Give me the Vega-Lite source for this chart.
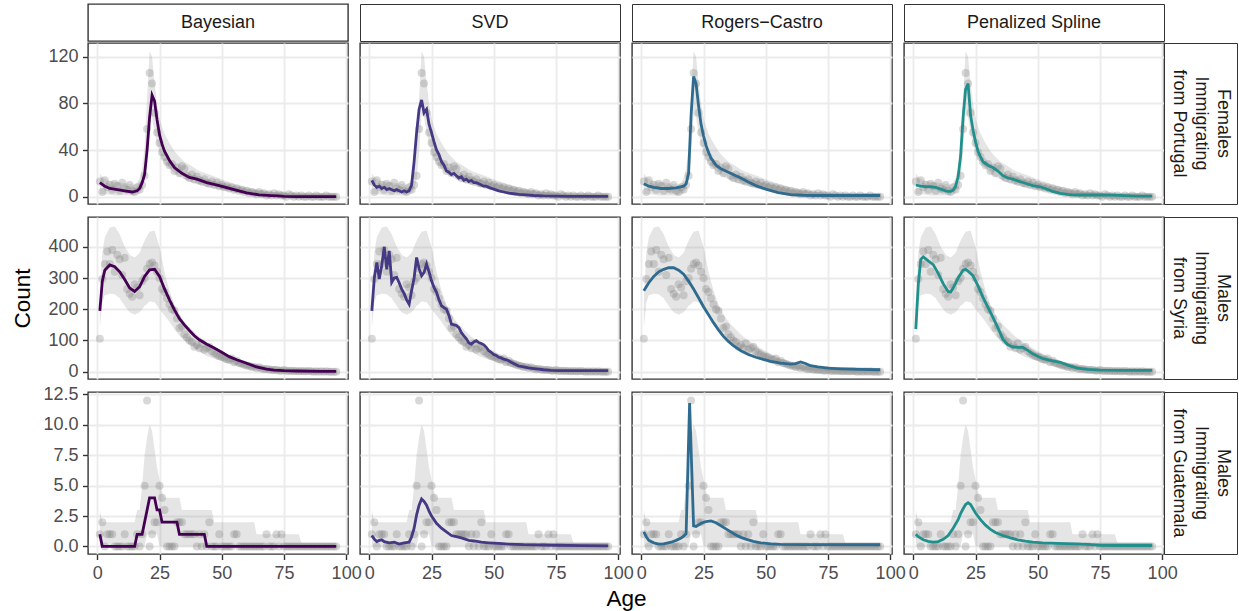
{
"$schema":"https://vega.github.io/schema/vega-lite/v6.json",
"padding":{"left":10,"top":3,"right":1,"bottom":4},
"background":"white",
"config":{
 "font":"Liberation Sans",
 "view":{"stroke":"#333333","strokeWidth":1.4},
 "axis":{"domain":false,"gridColor":"#ebebeb","gridWidth":1.8,"tickColor":"#333333","tickWidth":1.4,"tickSize":5.5,"labelColor":"#4d4d4d","labelFontSize":18,"labelPadding":4.5,"titleFontSize":22.5,"titleFontWeight":"normal","titleColor":"#000000","labelFont":"Liberation Sans","titleFont":"Liberation Sans"},
 "axisY":{"minExtent":45,"maxExtent":45,"titlePadding":9},
 "axisX":{"labelFlush":false,"titlePadding":5.6},
 "area":{"color":"#7f7f7f","opacity":0.2},
 "circle":{"color":"#7f7f7f","opacity":0.3,"size":64},
 "point":{"opacity":0,"size":1},
 "line":{"strokeWidth":2.8},
 "text":{"fontSize":18,"color":"#1a1a1a","font":"Liberation Sans"}
},
"datasets":{
"pts":[
{"c":"PT","age":1,"n":13},{"c":"PT","age":2,"n":4},{"c":"PT","age":3,"n":14},{"c":"PT","age":4,"n":8},{"c":"PT","age":5,"n":10},{"c":"PT","age":6,"n":6},{"c":"PT","age":7,"n":11},{"c":"PT","age":8,"n":9},{"c":"PT","age":9,"n":5},{"c":"PT","age":10,"n":12},{"c":"PT","age":11,"n":7},{"c":"PT","age":12,"n":6},{"c":"PT","age":13,"n":10},{"c":"PT","age":14,"n":5},{"c":"PT","age":15,"n":4},{"c":"PT","age":16,"n":8},{"c":"PT","age":17,"n":6},{"c":"PT","age":18,"n":10},{"c":"PT","age":19,"n":18},{"c":"PT","age":20,"n":58},{"c":"PT","age":21,"n":106},{"c":"PT","age":22,"n":97},{"c":"PT","age":23,"n":72},{"c":"PT","age":24,"n":55},{"c":"PT","age":25,"n":46},{"c":"PT","age":26,"n":38},{"c":"PT","age":27,"n":34},{"c":"PT","age":28,"n":30},{"c":"PT","age":29,"n":27},{"c":"PT","age":30,"n":28},{"c":"PT","age":31,"n":22},{"c":"PT","age":32,"n":25},{"c":"PT","age":33,"n":20},{"c":"PT","age":34,"n":26},{"c":"PT","age":35,"n":24},{"c":"PT","age":36,"n":18},{"c":"PT","age":37,"n":16},{"c":"PT","age":38,"n":19},{"c":"PT","age":39,"n":15},{"c":"PT","age":40,"n":17},{"c":"PT","age":41,"n":14},{"c":"PT","age":42,"n":13},{"c":"PT","age":43,"n":15},{"c":"PT","age":44,"n":12},{"c":"PT","age":45,"n":11},{"c":"PT","age":46,"n":13},{"c":"PT","age":47,"n":10},{"c":"PT","age":48,"n":12},{"c":"PT","age":49,"n":9},{"c":"PT","age":50,"n":10},{"c":"PT","age":51,"n":8},{"c":"PT","age":52,"n":9},{"c":"PT","age":53,"n":7},{"c":"PT","age":54,"n":8},{"c":"PT","age":55,"n":6},{"c":"PT","age":56,"n":7},{"c":"PT","age":57,"n":5},{"c":"PT","age":58,"n":6},{"c":"PT","age":59,"n":4},{"c":"PT","age":60,"n":5},{"c":"PT","age":61,"n":3},{"c":"PT","age":62,"n":4},{"c":"PT","age":63,"n":3},{"c":"PT","age":64,"n":2},{"c":"PT","age":65,"n":4},{"c":"PT","age":66,"n":2},{"c":"PT","age":67,"n":3},{"c":"PT","age":68,"n":1},{"c":"PT","age":69,"n":2},{"c":"PT","age":70,"n":1},{"c":"PT","age":71,"n":3},{"c":"PT","age":72,"n":1},{"c":"PT","age":73,"n":2},{"c":"PT","age":74,"n":1},{"c":"PT","age":75,"n":1},{"c":"PT","age":76,"n":0},{"c":"PT","age":77,"n":2},{"c":"PT","age":78,"n":1},{"c":"PT","age":79,"n":0},{"c":"PT","age":80,"n":1},{"c":"PT","age":81,"n":0},{"c":"PT","age":82,"n":1},{"c":"PT","age":83,"n":0},{"c":"PT","age":84,"n":0},{"c":"PT","age":85,"n":1},{"c":"PT","age":86,"n":0},{"c":"PT","age":87,"n":0},{"c":"PT","age":88,"n":1},{"c":"PT","age":89,"n":0},{"c":"PT","age":90,"n":0},{"c":"PT","age":91,"n":0},{"c":"PT","age":92,"n":1},{"c":"PT","age":93,"n":0},{"c":"PT","age":94,"n":0},{"c":"PT","age":95,"n":0},{"c":"PT","age":96,"n":0},
{"c":"SY","age":1,"n":105},{"c":"SY","age":2,"n":297},{"c":"SY","age":3,"n":345},{"c":"SY","age":4,"n":385},{"c":"SY","age":5,"n":345},{"c":"SY","age":6,"n":390},{"c":"SY","age":7,"n":320},{"c":"SY","age":8,"n":375},{"c":"SY","age":9,"n":360},{"c":"SY","age":10,"n":310},{"c":"SY","age":11,"n":365},{"c":"SY","age":12,"n":265},{"c":"SY","age":13,"n":250},{"c":"SY","age":14,"n":240},{"c":"SY","age":15,"n":280},{"c":"SY","age":16,"n":270},{"c":"SY","age":17,"n":245},{"c":"SY","age":18,"n":290},{"c":"SY","age":19,"n":300},{"c":"SY","age":20,"n":330},{"c":"SY","age":21,"n":345},{"c":"SY","age":22,"n":350},{"c":"SY","age":23,"n":340},{"c":"SY","age":24,"n":320},{"c":"SY","age":25,"n":300},{"c":"SY","age":26,"n":265},{"c":"SY","age":27,"n":255},{"c":"SY","age":28,"n":235},{"c":"SY","age":29,"n":215},{"c":"SY","age":30,"n":200},{"c":"SY","age":31,"n":195},{"c":"SY","age":32,"n":170},{"c":"SY","age":33,"n":140},{"c":"SY","age":34,"n":145},{"c":"SY","age":35,"n":120},{"c":"SY","age":36,"n":110},{"c":"SY","age":37,"n":100},{"c":"SY","age":38,"n":95},{"c":"SY","age":39,"n":80},{"c":"SY","age":40,"n":85},{"c":"SY","age":41,"n":75},{"c":"SY","age":42,"n":90},{"c":"SY","age":43,"n":70},{"c":"SY","age":44,"n":75},{"c":"SY","age":45,"n":80},{"c":"SY","age":46,"n":65},{"c":"SY","age":47,"n":60},{"c":"SY","age":48,"n":55},{"c":"SY","age":49,"n":50},{"c":"SY","age":50,"n":48},{"c":"SY","age":51,"n":45},{"c":"SY","age":52,"n":40},{"c":"SY","age":53,"n":38},{"c":"SY","age":54,"n":42},{"c":"SY","age":55,"n":30},{"c":"SY","age":56,"n":35},{"c":"SY","age":57,"n":28},{"c":"SY","age":58,"n":25},{"c":"SY","age":59,"n":22},{"c":"SY","age":60,"n":20},{"c":"SY","age":61,"n":18},{"c":"SY","age":62,"n":15},{"c":"SY","age":63,"n":16},{"c":"SY","age":64,"n":12},{"c":"SY","age":65,"n":14},{"c":"SY","age":66,"n":10},{"c":"SY","age":67,"n":8},{"c":"SY","age":68,"n":9},{"c":"SY","age":69,"n":7},{"c":"SY","age":70,"n":6},{"c":"SY","age":71,"n":5},{"c":"SY","age":72,"n":6},{"c":"SY","age":73,"n":4},{"c":"SY","age":74,"n":3},{"c":"SY","age":75,"n":5},{"c":"SY","age":76,"n":3},{"c":"SY","age":77,"n":2},{"c":"SY","age":78,"n":3},{"c":"SY","age":79,"n":2},{"c":"SY","age":80,"n":2},{"c":"SY","age":81,"n":1},{"c":"SY","age":82,"n":2},{"c":"SY","age":83,"n":1},{"c":"SY","age":84,"n":1},{"c":"SY","age":85,"n":2},{"c":"SY","age":86,"n":1},{"c":"SY","age":87,"n":0},{"c":"SY","age":88,"n":1},{"c":"SY","age":89,"n":0},{"c":"SY","age":90,"n":1},{"c":"SY","age":91,"n":0},{"c":"SY","age":92,"n":1},{"c":"SY","age":93,"n":0},{"c":"SY","age":94,"n":0},{"c":"SY","age":95,"n":0},{"c":"SY","age":96,"n":0},
{"c":"GT","age":1,"n":1},{"c":"GT","age":2,"n":2},{"c":"GT","age":3,"n":0},{"c":"GT","age":4,"n":1},{"c":"GT","age":5,"n":1},{"c":"GT","age":6,"n":1},{"c":"GT","age":7,"n":0},{"c":"GT","age":8,"n":0},{"c":"GT","age":9,"n":0},{"c":"GT","age":10,"n":0},{"c":"GT","age":11,"n":1},{"c":"GT","age":12,"n":0},{"c":"GT","age":13,"n":0},{"c":"GT","age":14,"n":0},{"c":"GT","age":15,"n":0},{"c":"GT","age":16,"n":1},{"c":"GT","age":17,"n":0},{"c":"GT","age":18,"n":1},{"c":"GT","age":19,"n":5},{"c":"GT","age":20,"n":12},{"c":"GT","age":21,"n":0},{"c":"GT","age":22,"n":1},{"c":"GT","age":23,"n":2},{"c":"GT","age":24,"n":2},{"c":"GT","age":25,"n":5},{"c":"GT","age":26,"n":4},{"c":"GT","age":27,"n":3},{"c":"GT","age":28,"n":0},{"c":"GT","age":29,"n":0},{"c":"GT","age":30,"n":0},{"c":"GT","age":31,"n":0},{"c":"GT","age":32,"n":2},{"c":"GT","age":33,"n":2},{"c":"GT","age":34,"n":2},{"c":"GT","age":35,"n":1},{"c":"GT","age":36,"n":1},{"c":"GT","age":37,"n":1},{"c":"GT","age":38,"n":1},{"c":"GT","age":39,"n":1},{"c":"GT","age":40,"n":0},{"c":"GT","age":41,"n":1},{"c":"GT","age":42,"n":0},{"c":"GT","age":43,"n":1},{"c":"GT","age":44,"n":0},{"c":"GT","age":45,"n":2},{"c":"GT","age":46,"n":0},{"c":"GT","age":47,"n":0},{"c":"GT","age":48,"n":0},{"c":"GT","age":49,"n":1},{"c":"GT","age":50,"n":0},{"c":"GT","age":51,"n":0},{"c":"GT","age":52,"n":0},{"c":"GT","age":53,"n":0},{"c":"GT","age":54,"n":0},{"c":"GT","age":55,"n":1},{"c":"GT","age":56,"n":1},{"c":"GT","age":57,"n":0},{"c":"GT","age":58,"n":0},{"c":"GT","age":59,"n":0},{"c":"GT","age":60,"n":0},{"c":"GT","age":61,"n":0},{"c":"GT","age":62,"n":0},{"c":"GT","age":63,"n":0},{"c":"GT","age":64,"n":0},{"c":"GT","age":65,"n":0},{"c":"GT","age":66,"n":0},{"c":"GT","age":67,"n":0},{"c":"GT","age":68,"n":1},{"c":"GT","age":69,"n":0},{"c":"GT","age":70,"n":0},{"c":"GT","age":71,"n":0},{"c":"GT","age":72,"n":1},{"c":"GT","age":73,"n":0},{"c":"GT","age":74,"n":1},{"c":"GT","age":75,"n":0},{"c":"GT","age":76,"n":0},{"c":"GT","age":77,"n":0},{"c":"GT","age":78,"n":0},{"c":"GT","age":79,"n":0},{"c":"GT","age":80,"n":0},{"c":"GT","age":81,"n":0},{"c":"GT","age":82,"n":0},{"c":"GT","age":83,"n":0},{"c":"GT","age":84,"n":0},{"c":"GT","age":85,"n":0},{"c":"GT","age":86,"n":0},{"c":"GT","age":87,"n":0},{"c":"GT","age":88,"n":0},{"c":"GT","age":89,"n":0},{"c":"GT","age":90,"n":0},{"c":"GT","age":91,"n":0},{"c":"GT","age":92,"n":0},{"c":"GT","age":93,"n":0},{"c":"GT","age":94,"n":0},{"c":"GT","age":95,"n":0},{"c":"GT","age":96,"n":0}
],
"rib":[
{"c":"PT","age":1,"lo":2,"hi":20},{"c":"PT","age":2,"lo":2,"hi":17},{"c":"PT","age":4,"lo":2,"hi":14},{"c":"PT","age":7,"lo":1,"hi":13},{"c":"PT","age":10,"lo":1,"hi":12},{"c":"PT","age":13,"lo":1,"hi":11},{"c":"PT","age":15,"lo":1,"hi":10},{"c":"PT","age":16,"lo":2,"hi":12},{"c":"PT","age":17,"lo":3,"hi":16},{"c":"PT","age":18,"lo":6,"hi":24},{"c":"PT","age":19,"lo":14,"hi":42},{"c":"PT","age":20,"lo":38,"hi":85},{"c":"PT","age":21,"lo":70,"hi":125},{"c":"PT","age":22,"lo":68,"hi":120},{"c":"PT","age":23,"lo":55,"hi":98},{"c":"PT","age":24,"lo":45,"hi":80},{"c":"PT","age":25,"lo":38,"hi":68},{"c":"PT","age":26,"lo":33,"hi":60},{"c":"PT","age":27,"lo":29,"hi":54},{"c":"PT","age":29,"lo":24,"hi":46},{"c":"PT","age":31,"lo":20,"hi":39},{"c":"PT","age":33,"lo":17,"hi":34},{"c":"PT","age":35,"lo":15,"hi":30},{"c":"PT","age":38,"lo":12,"hi":26},{"c":"PT","age":41,"lo":10,"hi":22},{"c":"PT","age":45,"lo":8,"hi":19},{"c":"PT","age":50,"lo":6,"hi":15},{"c":"PT","age":55,"lo":3.5,"hi":11},{"c":"PT","age":60,"lo":2,"hi":8},{"c":"PT","age":65,"lo":1,"hi":6},{"c":"PT","age":70,"lo":0,"hi":4},{"c":"PT","age":75,"lo":0,"hi":3},{"c":"PT","age":80,"lo":0,"hi":2.5},{"c":"PT","age":85,"lo":0,"hi":2},{"c":"PT","age":96,"lo":0,"hi":2},
{"c":"SY","age":1,"lo":140,"hi":230},{"c":"SY","age":2,"lo":220,"hi":380},{"c":"SY","age":3,"lo":245,"hi":430},{"c":"SY","age":5,"lo":250,"hi":462},{"c":"SY","age":7,"lo":248,"hi":465},{"c":"SY","age":9,"lo":235,"hi":440},{"c":"SY","age":11,"lo":210,"hi":400},{"c":"SY","age":13,"lo":190,"hi":375},{"c":"SY","age":15,"lo":182,"hi":366},{"c":"SY","age":17,"lo":190,"hi":380},{"c":"SY","age":19,"lo":210,"hi":420},{"c":"SY","age":21,"lo":225,"hi":448},{"c":"SY","age":23,"lo":222,"hi":452},{"c":"SY","age":25,"lo":200,"hi":400},{"c":"SY","age":27,"lo":180,"hi":320},{"c":"SY","age":29,"lo":160,"hi":260},{"c":"SY","age":31,"lo":135,"hi":215},{"c":"SY","age":33,"lo":115,"hi":185},{"c":"SY","age":35,"lo":100,"hi":160},{"c":"SY","age":38,"lo":82,"hi":135},{"c":"SY","age":41,"lo":65,"hi":112},{"c":"SY","age":44,"lo":50,"hi":95},{"c":"SY","age":48,"lo":38,"hi":75},{"c":"SY","age":52,"lo":28,"hi":57},{"c":"SY","age":56,"lo":18,"hi":42},{"c":"SY","age":60,"lo":12,"hi":30},{"c":"SY","age":65,"lo":7,"hi":20},{"c":"SY","age":70,"lo":4,"hi":13},{"c":"SY","age":75,"lo":2,"hi":9},{"c":"SY","age":80,"lo":1,"hi":7},{"c":"SY","age":85,"lo":0,"hi":6},{"c":"SY","age":90,"lo":0,"hi":5},{"c":"SY","age":96,"lo":0,"hi":5},
{"c":"GT","age":1,"lo":0,"hi":3},{"c":"GT","age":2,"lo":0,"hi":2},{"c":"GT","age":15,"lo":0,"hi":2},{"c":"GT","age":16,"lo":0,"hi":3},{"c":"GT","age":17,"lo":0,"hi":3},{"c":"GT","age":18,"lo":0,"hi":5},{"c":"GT","age":19,"lo":0,"hi":7.5},{"c":"GT","age":20,"lo":1,"hi":9},{"c":"GT","age":21,"lo":1,"hi":10},{"c":"GT","age":22,"lo":1,"hi":9.5},{"c":"GT","age":23,"lo":1,"hi":8},{"c":"GT","age":24,"lo":1,"hi":6.5},{"c":"GT","age":25,"lo":0,"hi":5.5},{"c":"GT","age":26,"lo":0,"hi":4.5},{"c":"GT","age":27,"lo":0,"hi":4},{"c":"GT","age":33,"lo":0,"hi":4},{"c":"GT","age":34,"lo":0,"hi":3},{"c":"GT","age":46,"lo":0,"hi":3},{"c":"GT","age":47,"lo":0,"hi":2},{"c":"GT","age":63,"lo":0,"hi":2},{"c":"GT","age":64,"lo":0,"hi":1},{"c":"GT","age":81,"lo":0,"hi":1},{"c":"GT","age":82,"lo":0,"hi":0.3},{"c":"GT","age":96,"lo":0,"hi":0.3}
],
"fit":[
{"c":"PT","m":"B","age":1,"v":12},{"c":"PT","m":"B","age":3,"v":9},{"c":"PT","m":"B","age":5,"v":7},{"c":"PT","m":"B","age":8,"v":6},{"c":"PT","m":"B","age":11,"v":5},{"c":"PT","m":"B","age":14,"v":4},{"c":"PT","m":"B","age":16,"v":5},{"c":"PT","m":"B","age":17,"v":7},{"c":"PT","m":"B","age":18,"v":12},{"c":"PT","m":"B","age":19,"v":19},{"c":"PT","m":"B","age":20,"v":40},{"c":"PT","m":"B","age":21,"v":68},{"c":"PT","m":"B","age":22,"v":87},{"c":"PT","m":"B","age":23,"v":82},{"c":"PT","m":"B","age":24,"v":66},{"c":"PT","m":"B","age":25,"v":53},{"c":"PT","m":"B","age":26,"v":45},{"c":"PT","m":"B","age":27,"v":39},{"c":"PT","m":"B","age":29,"v":31},{"c":"PT","m":"B","age":31,"v":25},{"c":"PT","m":"B","age":34,"v":20},{"c":"PT","m":"B","age":37,"v":16.5},{"c":"PT","m":"B","age":40,"v":15},{"c":"PT","m":"B","age":44,"v":12},{"c":"PT","m":"B","age":49,"v":9.5},{"c":"PT","m":"B","age":55,"v":6},{"c":"PT","m":"B","age":60,"v":3.3},{"c":"PT","m":"B","age":65,"v":1.6},{"c":"PT","m":"B","age":70,"v":0.9},{"c":"PT","m":"B","age":73,"v":0.6},{"c":"PT","m":"B","age":75,"v":0.2},{"c":"PT","m":"B","age":80,"v":0.1},{"c":"PT","m":"B","age":96,"v":0},
{"c":"PT","m":"S","age":1,"v":14},{"c":"PT","m":"S","age":2,"v":10},{"c":"PT","m":"S","age":3,"v":8},{"c":"PT","m":"S","age":4,"v":9},{"c":"PT","m":"S","age":5,"v":7},{"c":"PT","m":"S","age":6,"v":8},{"c":"PT","m":"S","age":7,"v":6},{"c":"PT","m":"S","age":8,"v":7},{"c":"PT","m":"S","age":9,"v":6},{"c":"PT","m":"S","age":10,"v":5},{"c":"PT","m":"S","age":11,"v":6},{"c":"PT","m":"S","age":12,"v":5},{"c":"PT","m":"S","age":13,"v":4},{"c":"PT","m":"S","age":14,"v":5},{"c":"PT","m":"S","age":15,"v":4},{"c":"PT","m":"S","age":16,"v":5},{"c":"PT","m":"S","age":17,"v":10},{"c":"PT","m":"S","age":18,"v":30},{"c":"PT","m":"S","age":19,"v":55},{"c":"PT","m":"S","age":20,"v":75},{"c":"PT","m":"S","age":21,"v":83},{"c":"PT","m":"S","age":22,"v":72},{"c":"PT","m":"S","age":23,"v":75},{"c":"PT","m":"S","age":24,"v":62},{"c":"PT","m":"S","age":25,"v":55},{"c":"PT","m":"S","age":26,"v":47},{"c":"PT","m":"S","age":27,"v":40},{"c":"PT","m":"S","age":28,"v":36},{"c":"PT","m":"S","age":29,"v":30},{"c":"PT","m":"S","age":30,"v":27},{"c":"PT","m":"S","age":31,"v":22},{"c":"PT","m":"S","age":32,"v":21},{"c":"PT","m":"S","age":33,"v":19},{"c":"PT","m":"S","age":34,"v":20},{"c":"PT","m":"S","age":35,"v":18},{"c":"PT","m":"S","age":36,"v":16},{"c":"PT","m":"S","age":37,"v":17},{"c":"PT","m":"S","age":38,"v":14},{"c":"PT","m":"S","age":39,"v":15},{"c":"PT","m":"S","age":40,"v":13},{"c":"PT","m":"S","age":41,"v":14},{"c":"PT","m":"S","age":42,"v":12},{"c":"PT","m":"S","age":43,"v":12},{"c":"PT","m":"S","age":44,"v":11},{"c":"PT","m":"S","age":45,"v":10},{"c":"PT","m":"S","age":46,"v":9},{"c":"PT","m":"S","age":47,"v":9},{"c":"PT","m":"S","age":48,"v":8},{"c":"PT","m":"S","age":50,"v":6.5},{"c":"PT","m":"S","age":52,"v":5},{"c":"PT","m":"S","age":54,"v":4},{"c":"PT","m":"S","age":56,"v":3},{"c":"PT","m":"S","age":58,"v":2.5},{"c":"PT","m":"S","age":60,"v":2},{"c":"PT","m":"S","age":63,"v":1.5},{"c":"PT","m":"S","age":66,"v":1},{"c":"PT","m":"S","age":70,"v":0.6},{"c":"PT","m":"S","age":75,"v":0.4},{"c":"PT","m":"S","age":80,"v":0.3},{"c":"PT","m":"S","age":96,"v":0.2},
{"c":"PT","m":"R","age":1,"v":11},{"c":"PT","m":"R","age":3,"v":9},{"c":"PT","m":"R","age":5,"v":8},{"c":"PT","m":"R","age":8,"v":7},{"c":"PT","m":"R","age":11,"v":7},{"c":"PT","m":"R","age":14,"v":7.5},{"c":"PT","m":"R","age":17,"v":9},{"c":"PT","m":"R","age":18,"v":11},{"c":"PT","m":"R","age":19,"v":20},{"c":"PT","m":"R","age":20,"v":70},{"c":"PT","m":"R","age":21,"v":103},{"c":"PT","m":"R","age":22,"v":97},{"c":"PT","m":"R","age":23,"v":78},{"c":"PT","m":"R","age":24,"v":62},{"c":"PT","m":"R","age":25,"v":52},{"c":"PT","m":"R","age":26,"v":44},{"c":"PT","m":"R","age":27,"v":38},{"c":"PT","m":"R","age":28,"v":33},{"c":"PT","m":"R","age":30,"v":27},{"c":"PT","m":"R","age":32,"v":24},{"c":"PT","m":"R","age":35,"v":21},{"c":"PT","m":"R","age":38,"v":18},{"c":"PT","m":"R","age":40,"v":16},{"c":"PT","m":"R","age":43,"v":12.5},{"c":"PT","m":"R","age":46,"v":9.5},{"c":"PT","m":"R","age":50,"v":6.5},{"c":"PT","m":"R","age":55,"v":3.5},{"c":"PT","m":"R","age":60,"v":1.8},{"c":"PT","m":"R","age":65,"v":1.2},{"c":"PT","m":"R","age":70,"v":1},{"c":"PT","m":"R","age":96,"v":1},
{"c":"PT","m":"P","age":1,"v":10},{"c":"PT","m":"P","age":3,"v":9},{"c":"PT","m":"P","age":5,"v":8.6},{"c":"PT","m":"P","age":7,"v":8.5},{"c":"PT","m":"P","age":9,"v":8},{"c":"PT","m":"P","age":11,"v":6.5},{"c":"PT","m":"P","age":13,"v":5},{"c":"PT","m":"P","age":14,"v":4.6},{"c":"PT","m":"P","age":15,"v":4.5},{"c":"PT","m":"P","age":16,"v":5.5},{"c":"PT","m":"P","age":17,"v":9},{"c":"PT","m":"P","age":18,"v":17},{"c":"PT","m":"P","age":19,"v":35},{"c":"PT","m":"P","age":20,"v":68},{"c":"PT","m":"P","age":21,"v":92},{"c":"PT","m":"P","age":22,"v":97},{"c":"PT","m":"P","age":23,"v":70},{"c":"PT","m":"P","age":24,"v":57},{"c":"PT","m":"P","age":25,"v":47},{"c":"PT","m":"P","age":26,"v":39},{"c":"PT","m":"P","age":27,"v":34},{"c":"PT","m":"P","age":28,"v":30},{"c":"PT","m":"P","age":30,"v":27},{"c":"PT","m":"P","age":32,"v":25},{"c":"PT","m":"P","age":34,"v":22},{"c":"PT","m":"P","age":36,"v":18},{"c":"PT","m":"P","age":38,"v":16},{"c":"PT","m":"P","age":40,"v":15},{"c":"PT","m":"P","age":42,"v":13.5},{"c":"PT","m":"P","age":45,"v":11.5},{"c":"PT","m":"P","age":48,"v":9.5},{"c":"PT","m":"P","age":51,"v":8.5},{"c":"PT","m":"P","age":53,"v":7},{"c":"PT","m":"P","age":56,"v":4.5},{"c":"PT","m":"P","age":59,"v":2.9},{"c":"PT","m":"P","age":62,"v":2},{"c":"PT","m":"P","age":65,"v":1.4},{"c":"PT","m":"P","age":70,"v":1.4},{"c":"PT","m":"P","age":75,"v":1.6},{"c":"PT","m":"P","age":80,"v":1.3},{"c":"PT","m":"P","age":85,"v":0.8},{"c":"PT","m":"P","age":90,"v":0.5},{"c":"PT","m":"P","age":96,"v":0.5},
{"c":"SY","m":"B","age":1,"v":195},{"c":"SY","m":"B","age":2,"v":290},{"c":"SY","m":"B","age":3,"v":325},{"c":"SY","m":"B","age":5,"v":342},{"c":"SY","m":"B","age":7,"v":336},{"c":"SY","m":"B","age":9,"v":320},{"c":"SY","m":"B","age":11,"v":295},{"c":"SY","m":"B","age":13,"v":268},{"c":"SY","m":"B","age":15,"v":257},{"c":"SY","m":"B","age":17,"v":272},{"c":"SY","m":"B","age":19,"v":305},{"c":"SY","m":"B","age":21,"v":326},{"c":"SY","m":"B","age":23,"v":328},{"c":"SY","m":"B","age":25,"v":305},{"c":"SY","m":"B","age":27,"v":265},{"c":"SY","m":"B","age":29,"v":230},{"c":"SY","m":"B","age":31,"v":198},{"c":"SY","m":"B","age":33,"v":170},{"c":"SY","m":"B","age":35,"v":150},{"c":"SY","m":"B","age":37,"v":132},{"c":"SY","m":"B","age":39,"v":115},{"c":"SY","m":"B","age":41,"v":102},{"c":"SY","m":"B","age":44,"v":88},{"c":"SY","m":"B","age":47,"v":76},{"c":"SY","m":"B","age":50,"v":62},{"c":"SY","m":"B","age":53,"v":48},{"c":"SY","m":"B","age":56,"v":38},{"c":"SY","m":"B","age":60,"v":27},{"c":"SY","m":"B","age":64,"v":15},{"c":"SY","m":"B","age":68,"v":8},{"c":"SY","m":"B","age":71,"v":5},{"c":"SY","m":"B","age":75,"v":3},{"c":"SY","m":"B","age":80,"v":2},{"c":"SY","m":"B","age":90,"v":1},{"c":"SY","m":"B","age":96,"v":1},
{"c":"SY","m":"S","age":1,"v":195},{"c":"SY","m":"S","age":2,"v":300},{"c":"SY","m":"S","age":3,"v":350},{"c":"SY","m":"S","age":4,"v":297},{"c":"SY","m":"S","age":5,"v":340},{"c":"SY","m":"S","age":6,"v":400},{"c":"SY","m":"S","age":7,"v":328},{"c":"SY","m":"S","age":8,"v":387},{"c":"SY","m":"S","age":9,"v":286},{"c":"SY","m":"S","age":10,"v":300},{"c":"SY","m":"S","age":11,"v":302},{"c":"SY","m":"S","age":12,"v":285},{"c":"SY","m":"S","age":13,"v":264},{"c":"SY","m":"S","age":14,"v":250},{"c":"SY","m":"S","age":15,"v":230},{"c":"SY","m":"S","age":16,"v":216},{"c":"SY","m":"S","age":17,"v":260},{"c":"SY","m":"S","age":18,"v":300},{"c":"SY","m":"S","age":19,"v":366},{"c":"SY","m":"S","age":20,"v":330},{"c":"SY","m":"S","age":21,"v":307},{"c":"SY","m":"S","age":22,"v":318},{"c":"SY","m":"S","age":23,"v":345},{"c":"SY","m":"S","age":24,"v":320},{"c":"SY","m":"S","age":25,"v":291},{"c":"SY","m":"S","age":26,"v":270},{"c":"SY","m":"S","age":27,"v":254},{"c":"SY","m":"S","age":28,"v":230},{"c":"SY","m":"S","age":29,"v":211},{"c":"SY","m":"S","age":30,"v":205},{"c":"SY","m":"S","age":31,"v":200},{"c":"SY","m":"S","age":32,"v":180},{"c":"SY","m":"S","age":33,"v":152},{"c":"SY","m":"S","age":34,"v":150},{"c":"SY","m":"S","age":35,"v":148},{"c":"SY","m":"S","age":36,"v":141},{"c":"SY","m":"S","age":37,"v":125},{"c":"SY","m":"S","age":38,"v":115},{"c":"SY","m":"S","age":39,"v":105},{"c":"SY","m":"S","age":40,"v":92},{"c":"SY","m":"S","age":41,"v":88},{"c":"SY","m":"S","age":42,"v":95},{"c":"SY","m":"S","age":43,"v":99},{"c":"SY","m":"S","age":44,"v":93},{"c":"SY","m":"S","age":45,"v":90},{"c":"SY","m":"S","age":46,"v":86},{"c":"SY","m":"S","age":47,"v":78},{"c":"SY","m":"S","age":48,"v":67},{"c":"SY","m":"S","age":49,"v":62},{"c":"SY","m":"S","age":50,"v":55},{"c":"SY","m":"S","age":51,"v":52},{"c":"SY","m":"S","age":52,"v":46},{"c":"SY","m":"S","age":53,"v":44},{"c":"SY","m":"S","age":54,"v":40},{"c":"SY","m":"S","age":55,"v":38},{"c":"SY","m":"S","age":56,"v":35},{"c":"SY","m":"S","age":57,"v":30},{"c":"SY","m":"S","age":58,"v":26},{"c":"SY","m":"S","age":59,"v":22},{"c":"SY","m":"S","age":60,"v":18},{"c":"SY","m":"S","age":62,"v":15},{"c":"SY","m":"S","age":64,"v":12},{"c":"SY","m":"S","age":66,"v":10},{"c":"SY","m":"S","age":68,"v":8},{"c":"SY","m":"S","age":70,"v":6},{"c":"SY","m":"S","age":73,"v":4},{"c":"SY","m":"S","age":76,"v":3},{"c":"SY","m":"S","age":96,"v":3},
{"c":"SY","m":"R","age":1,"v":259},{"c":"SY","m":"R","age":3,"v":285},{"c":"SY","m":"R","age":5,"v":305},{"c":"SY","m":"R","age":7,"v":320},{"c":"SY","m":"R","age":9,"v":328},{"c":"SY","m":"R","age":11,"v":333},{"c":"SY","m":"R","age":13,"v":333},{"c":"SY","m":"R","age":15,"v":325},{"c":"SY","m":"R","age":17,"v":312},{"c":"SY","m":"R","age":19,"v":290},{"c":"SY","m":"R","age":21,"v":265},{"c":"SY","m":"R","age":23,"v":237},{"c":"SY","m":"R","age":25,"v":208},{"c":"SY","m":"R","age":27,"v":182},{"c":"SY","m":"R","age":29,"v":157},{"c":"SY","m":"R","age":31,"v":134},{"c":"SY","m":"R","age":33,"v":113},{"c":"SY","m":"R","age":35,"v":97},{"c":"SY","m":"R","age":37,"v":83},{"c":"SY","m":"R","age":40,"v":67},{"c":"SY","m":"R","age":43,"v":55},{"c":"SY","m":"R","age":46,"v":46},{"c":"SY","m":"R","age":49,"v":39},{"c":"SY","m":"R","age":52,"v":33},{"c":"SY","m":"R","age":56,"v":27},{"c":"SY","m":"R","age":60,"v":24},{"c":"SY","m":"R","age":62,"v":26},{"c":"SY","m":"R","age":64,"v":31},{"c":"SY","m":"R","age":66,"v":26},{"c":"SY","m":"R","age":68,"v":19},{"c":"SY","m":"R","age":71,"v":15},{"c":"SY","m":"R","age":75,"v":11},{"c":"SY","m":"R","age":80,"v":9},{"c":"SY","m":"R","age":88,"v":7},{"c":"SY","m":"R","age":96,"v":6},
{"c":"SY","m":"P","age":1,"v":136},{"c":"SY","m":"P","age":2,"v":280},{"c":"SY","m":"P","age":3,"v":360},{"c":"SY","m":"P","age":4,"v":368},{"c":"SY","m":"P","age":6,"v":355},{"c":"SY","m":"P","age":8,"v":343},{"c":"SY","m":"P","age":10,"v":315},{"c":"SY","m":"P","age":12,"v":282},{"c":"SY","m":"P","age":14,"v":257},{"c":"SY","m":"P","age":15,"v":255},{"c":"SY","m":"P","age":16,"v":268},{"c":"SY","m":"P","age":18,"v":300},{"c":"SY","m":"P","age":20,"v":325},{"c":"SY","m":"P","age":21,"v":328},{"c":"SY","m":"P","age":22,"v":322},{"c":"SY","m":"P","age":24,"v":307},{"c":"SY","m":"P","age":26,"v":275},{"c":"SY","m":"P","age":28,"v":238},{"c":"SY","m":"P","age":30,"v":206},{"c":"SY","m":"P","age":32,"v":174},{"c":"SY","m":"P","age":34,"v":140},{"c":"SY","m":"P","age":36,"v":104},{"c":"SY","m":"P","age":38,"v":86},{"c":"SY","m":"P","age":40,"v":79},{"c":"SY","m":"P","age":42,"v":78},{"c":"SY","m":"P","age":44,"v":78},{"c":"SY","m":"P","age":46,"v":68},{"c":"SY","m":"P","age":48,"v":57},{"c":"SY","m":"P","age":50,"v":49},{"c":"SY","m":"P","age":52,"v":42},{"c":"SY","m":"P","age":55,"v":36},{"c":"SY","m":"P","age":59,"v":30},{"c":"SY","m":"P","age":62,"v":21},{"c":"SY","m":"P","age":66,"v":11},{"c":"SY","m":"P","age":70,"v":7},{"c":"SY","m":"P","age":75,"v":5},{"c":"SY","m":"P","age":85,"v":4},{"c":"SY","m":"P","age":96,"v":4},
{"c":"GT","m":"B","age":1,"v":1},{"c":"GT","m":"B","age":2,"v":0},{"c":"GT","m":"B","age":15,"v":0},{"c":"GT","m":"B","age":16,"v":1},{"c":"GT","m":"B","age":18,"v":1},{"c":"GT","m":"B","age":21,"v":4},{"c":"GT","m":"B","age":23,"v":4},{"c":"GT","m":"B","age":24,"v":3},{"c":"GT","m":"B","age":25,"v":3},{"c":"GT","m":"B","age":26,"v":2},{"c":"GT","m":"B","age":32,"v":2},{"c":"GT","m":"B","age":33,"v":1},{"c":"GT","m":"B","age":43,"v":1},{"c":"GT","m":"B","age":44,"v":0},{"c":"GT","m":"B","age":96,"v":0},
{"c":"GT","m":"S","age":1,"v":0.9},{"c":"GT","m":"S","age":2,"v":0.6},{"c":"GT","m":"S","age":3,"v":0.4},{"c":"GT","m":"S","age":4,"v":0.5},{"c":"GT","m":"S","age":5,"v":0.55},{"c":"GT","m":"S","age":6,"v":0.4},{"c":"GT","m":"S","age":8,"v":0.3},{"c":"GT","m":"S","age":10,"v":0.35},{"c":"GT","m":"S","age":12,"v":0.2},{"c":"GT","m":"S","age":14,"v":0.3},{"c":"GT","m":"S","age":16,"v":0.35},{"c":"GT","m":"S","age":17,"v":0.8},{"c":"GT","m":"S","age":18,"v":1.5},{"c":"GT","m":"S","age":19,"v":2.6},{"c":"GT","m":"S","age":20,"v":3.4},{"c":"GT","m":"S","age":21,"v":3.9},{"c":"GT","m":"S","age":22,"v":3.7},{"c":"GT","m":"S","age":23,"v":3.4},{"c":"GT","m":"S","age":24,"v":2.9},{"c":"GT","m":"S","age":25,"v":2.5},{"c":"GT","m":"S","age":27,"v":1.9},{"c":"GT","m":"S","age":29,"v":1.5},{"c":"GT","m":"S","age":31,"v":1.2},{"c":"GT","m":"S","age":33,"v":0.9},{"c":"GT","m":"S","age":35,"v":0.8},{"c":"GT","m":"S","age":37,"v":0.7},{"c":"GT","m":"S","age":40,"v":0.5},{"c":"GT","m":"S","age":42,"v":0.45},{"c":"GT","m":"S","age":45,"v":0.35},{"c":"GT","m":"S","age":48,"v":0.3},{"c":"GT","m":"S","age":52,"v":0.25},{"c":"GT","m":"S","age":56,"v":0.2},{"c":"GT","m":"S","age":62,"v":0.15},{"c":"GT","m":"S","age":70,"v":0.12},{"c":"GT","m":"S","age":75,"v":0.1},{"c":"GT","m":"S","age":85,"v":0.07},{"c":"GT","m":"S","age":96,"v":0.05},
{"c":"GT","m":"R","age":1,"v":1.2},{"c":"GT","m":"R","age":2,"v":0.8},{"c":"GT","m":"R","age":3,"v":0.5},{"c":"GT","m":"R","age":5,"v":0.3},{"c":"GT","m":"R","age":7,"v":0.2},{"c":"GT","m":"R","age":9,"v":0.22},{"c":"GT","m":"R","age":12,"v":0.35},{"c":"GT","m":"R","age":14,"v":0.5},{"c":"GT","m":"R","age":16,"v":0.7},{"c":"GT","m":"R","age":17,"v":0.85},{"c":"GT","m":"R","age":18,"v":1.05},{"c":"GT","m":"R","age":19.4,"v":11.8},{"c":"GT","m":"R","age":21,"v":1.7},{"c":"GT","m":"R","age":22,"v":1.65},{"c":"GT","m":"R","age":24,"v":1.9},{"c":"GT","m":"R","age":26,"v":2.05},{"c":"GT","m":"R","age":28,"v":2.1},{"c":"GT","m":"R","age":30,"v":1.95},{"c":"GT","m":"R","age":32,"v":1.7},{"c":"GT","m":"R","age":34,"v":1.45},{"c":"GT","m":"R","age":36,"v":1.2},{"c":"GT","m":"R","age":38,"v":0.95},{"c":"GT","m":"R","age":40,"v":0.75},{"c":"GT","m":"R","age":42,"v":0.6},{"c":"GT","m":"R","age":45,"v":0.42},{"c":"GT","m":"R","age":48,"v":0.3},{"c":"GT","m":"R","age":52,"v":0.22},{"c":"GT","m":"R","age":56,"v":0.17},{"c":"GT","m":"R","age":65,"v":0.15},{"c":"GT","m":"R","age":96,"v":0.14},
{"c":"GT","m":"P","age":1,"v":1.0},{"c":"GT","m":"P","age":2,"v":0.8},{"c":"GT","m":"P","age":4,"v":0.55},{"c":"GT","m":"P","age":6,"v":0.42},{"c":"GT","m":"P","age":8,"v":0.36},{"c":"GT","m":"P","age":10,"v":0.4},{"c":"GT","m":"P","age":12,"v":0.58},{"c":"GT","m":"P","age":14,"v":0.9},{"c":"GT","m":"P","age":16,"v":1.5},{"c":"GT","m":"P","age":18,"v":2.2},{"c":"GT","m":"P","age":19,"v":2.7},{"c":"GT","m":"P","age":20,"v":3.1},{"c":"GT","m":"P","age":21,"v":3.45},{"c":"GT","m":"P","age":22,"v":3.6},{"c":"GT","m":"P","age":23,"v":3.45},{"c":"GT","m":"P","age":24,"v":3.1},{"c":"GT","m":"P","age":25,"v":2.75},{"c":"GT","m":"P","age":27,"v":2.2},{"c":"GT","m":"P","age":29,"v":1.75},{"c":"GT","m":"P","age":31,"v":1.4},{"c":"GT","m":"P","age":33,"v":1.15},{"c":"GT","m":"P","age":36,"v":0.9},{"c":"GT","m":"P","age":39,"v":0.7},{"c":"GT","m":"P","age":42,"v":0.55},{"c":"GT","m":"P","age":45,"v":0.44},{"c":"GT","m":"P","age":48,"v":0.36},{"c":"GT","m":"P","age":52,"v":0.3},{"c":"GT","m":"P","age":58,"v":0.25},{"c":"GT","m":"P","age":65,"v":0.21},{"c":"GT","m":"P","age":70,"v":0.17},{"c":"GT","m":"P","age":75,"v":0.1},{"c":"GT","m":"P","age":85,"v":0.08},{"c":"GT","m":"P","age":96,"v":0.08}
]
},
"spacing":9,
"vconcat":[
{"spacing":0,"vconcat":[
 {"bounds":"flush","spacing":12,"hconcat":[
  {"width":260,"height":37,"view":{"fill":"white","stroke":"#333333"},"data":{"values":[{"t":"Bayesian"}]},"mark":"text","encoding":{"text":{"field":"t","type":"nominal"},"y":{"datum":0.5,"type":"quantitative","scale":{"domain":[0,1]},"axis":{"title":"C","titleOpacity":0,"labels":false,"ticks":false,"grid":false}}}},
  {"width":260,"height":37,"view":{"fill":"white","stroke":"#333333"},"data":{"values":[{"t":"SVD"}]},"mark":"text","encoding":{"text":{"field":"t","type":"nominal"}}},
  {"width":260,"height":37,"view":{"fill":"white","stroke":"#333333"},"data":{"values":[{"t":"Rogers−Castro"}]},"mark":"text","encoding":{"text":{"field":"t","type":"nominal"}}},
  {"width":260,"height":37,"view":{"fill":"white","stroke":"#333333"},"data":{"values":[{"t":"Penalized Spline"}]},"mark":"text","encoding":{"text":{"field":"t","type":"nominal"}}}
 ]},
 {"bounds":"flush","spacing":12,"hconcat":[
  {"width":260,"height":161,"resolve":{"axis":{"x":"independent","y":"independent"}},"layer":[
   {"data":{"name":"rib"},"transform":[{"filter":"datum.c=='PT'"}],"mark":"area","encoding":{"x":{"field":"age","type":"quantitative","scale":{"domain":[-3.75,100.75],"nice":false,"zero":false},"axis":{"values":[0,25,50,75,100],"labels":false,"ticks":false,"title":null}},"y":{"field":"lo","type":"quantitative","scale":{"domain":[-6.3,131.8],"nice":false,"zero":false},"axis":{"values":[0,40,80,120],"title":"Count","titleOpacity":0}},"y2":{"field":"hi"}}},
   {"data":{"name":"rib"},"transform":[{"filter":"datum.c=='PT'"}],"mark":"point","encoding":{"x":{"field":"age","type":"quantitative","scale":{"domain":[-3.75,100.75],"nice":false,"zero":false},"axis":{"values":[12.5,37.5,62.5,87.5],"labels":false,"ticks":false,"title":null,"gridWidth":0.9}},"y":{"field":"lo","type":"quantitative","scale":{"domain":[-6.3,131.8],"nice":false,"zero":false},"axis":{"values":[20,60,100],"labels":false,"ticks":false,"title":null,"gridWidth":0.9}}}},
   {"data":{"name":"pts"},"transform":[{"filter":"datum.c=='PT'"}],"mark":"circle","encoding":{"x":{"field":"age","type":"quantitative","scale":{"domain":[-3.75,100.75],"nice":false,"zero":false},"axis":null},"y":{"field":"n","type":"quantitative","scale":{"domain":[-6.3,131.8],"nice":false,"zero":false},"axis":null}}},
   {"data":{"name":"fit"},"transform":[{"filter":"datum.c=='PT' && datum.m=='B'"}],"mark":{"type":"line","color":"#440154"},"encoding":{"x":{"field":"age","type":"quantitative","scale":{"domain":[-3.75,100.75],"nice":false,"zero":false},"axis":null},"y":{"field":"v","type":"quantitative","scale":{"domain":[-6.3,131.8],"nice":false,"zero":false},"axis":null}}}
  ]},
  {"width":260,"height":161,"resolve":{"axis":{"x":"independent","y":"independent"}},"layer":[
   {"data":{"name":"rib"},"transform":[{"filter":"datum.c=='PT'"}],"mark":"area","encoding":{"x":{"field":"age","type":"quantitative","scale":{"domain":[-3.75,100.75],"nice":false,"zero":false},"axis":{"values":[0,25,50,75,100],"labels":false,"ticks":false,"title":null}},"y":{"field":"lo","type":"quantitative","scale":{"domain":[-6.3,131.8],"nice":false,"zero":false},"axis":{"values":[0,40,80,120],"labels":false,"ticks":false,"title":null}},"y2":{"field":"hi"}}},
   {"data":{"name":"rib"},"transform":[{"filter":"datum.c=='PT'"}],"mark":"point","encoding":{"x":{"field":"age","type":"quantitative","scale":{"domain":[-3.75,100.75],"nice":false,"zero":false},"axis":{"values":[12.5,37.5,62.5,87.5],"labels":false,"ticks":false,"title":null,"gridWidth":0.9}},"y":{"field":"lo","type":"quantitative","scale":{"domain":[-6.3,131.8],"nice":false,"zero":false},"axis":{"values":[20,60,100],"labels":false,"ticks":false,"title":null,"gridWidth":0.9}}}},
   {"data":{"name":"pts"},"transform":[{"filter":"datum.c=='PT'"}],"mark":"circle","encoding":{"x":{"field":"age","type":"quantitative","scale":{"domain":[-3.75,100.75],"nice":false,"zero":false},"axis":null},"y":{"field":"n","type":"quantitative","scale":{"domain":[-6.3,131.8],"nice":false,"zero":false},"axis":null}}},
   {"data":{"name":"fit"},"transform":[{"filter":"datum.c=='PT' && datum.m=='S'"}],"mark":{"type":"line","color":"#443983"},"encoding":{"x":{"field":"age","type":"quantitative","scale":{"domain":[-3.75,100.75],"nice":false,"zero":false},"axis":null},"y":{"field":"v","type":"quantitative","scale":{"domain":[-6.3,131.8],"nice":false,"zero":false},"axis":null}}}
  ]},
  {"width":260,"height":161,"resolve":{"axis":{"x":"independent","y":"independent"}},"layer":[
   {"data":{"name":"rib"},"transform":[{"filter":"datum.c=='PT'"}],"mark":"area","encoding":{"x":{"field":"age","type":"quantitative","scale":{"domain":[-3.75,100.75],"nice":false,"zero":false},"axis":{"values":[0,25,50,75,100],"labels":false,"ticks":false,"title":null}},"y":{"field":"lo","type":"quantitative","scale":{"domain":[-6.3,131.8],"nice":false,"zero":false},"axis":{"values":[0,40,80,120],"labels":false,"ticks":false,"title":null}},"y2":{"field":"hi"}}},
   {"data":{"name":"rib"},"transform":[{"filter":"datum.c=='PT'"}],"mark":"point","encoding":{"x":{"field":"age","type":"quantitative","scale":{"domain":[-3.75,100.75],"nice":false,"zero":false},"axis":{"values":[12.5,37.5,62.5,87.5],"labels":false,"ticks":false,"title":null,"gridWidth":0.9}},"y":{"field":"lo","type":"quantitative","scale":{"domain":[-6.3,131.8],"nice":false,"zero":false},"axis":{"values":[20,60,100],"labels":false,"ticks":false,"title":null,"gridWidth":0.9}}}},
   {"data":{"name":"pts"},"transform":[{"filter":"datum.c=='PT'"}],"mark":"circle","encoding":{"x":{"field":"age","type":"quantitative","scale":{"domain":[-3.75,100.75],"nice":false,"zero":false},"axis":null},"y":{"field":"n","type":"quantitative","scale":{"domain":[-6.3,131.8],"nice":false,"zero":false},"axis":null}}},
   {"data":{"name":"fit"},"transform":[{"filter":"datum.c=='PT' && datum.m=='R'"}],"mark":{"type":"line","color":"#2E6B8E"},"encoding":{"x":{"field":"age","type":"quantitative","scale":{"domain":[-3.75,100.75],"nice":false,"zero":false},"axis":null},"y":{"field":"v","type":"quantitative","scale":{"domain":[-6.3,131.8],"nice":false,"zero":false},"axis":null}}}
  ]},
  {"bounds":"flush","spacing":0,"hconcat":[
   {"width":260,"height":161,"resolve":{"axis":{"x":"independent","y":"independent"}},"layer":[
    {"data":{"name":"rib"},"transform":[{"filter":"datum.c=='PT'"}],"mark":"area","encoding":{"x":{"field":"age","type":"quantitative","scale":{"domain":[-3.75,100.75],"nice":false,"zero":false},"axis":{"values":[0,25,50,75,100],"labels":false,"ticks":false,"title":null}},"y":{"field":"lo","type":"quantitative","scale":{"domain":[-6.3,131.8],"nice":false,"zero":false},"axis":{"values":[0,40,80,120],"labels":false,"ticks":false,"title":null}},"y2":{"field":"hi"}}},
    {"data":{"name":"rib"},"transform":[{"filter":"datum.c=='PT'"}],"mark":"point","encoding":{"x":{"field":"age","type":"quantitative","scale":{"domain":[-3.75,100.75],"nice":false,"zero":false},"axis":{"values":[12.5,37.5,62.5,87.5],"labels":false,"ticks":false,"title":null,"gridWidth":0.9}},"y":{"field":"lo","type":"quantitative","scale":{"domain":[-6.3,131.8],"nice":false,"zero":false},"axis":{"values":[20,60,100],"labels":false,"ticks":false,"title":null,"gridWidth":0.9}}}},
    {"data":{"name":"pts"},"transform":[{"filter":"datum.c=='PT'"}],"mark":"circle","encoding":{"x":{"field":"age","type":"quantitative","scale":{"domain":[-3.75,100.75],"nice":false,"zero":false},"axis":null},"y":{"field":"n","type":"quantitative","scale":{"domain":[-6.3,131.8],"nice":false,"zero":false},"axis":null}}},
    {"data":{"name":"fit"},"transform":[{"filter":"datum.c=='PT' && datum.m=='P'"}],"mark":{"type":"line","color":"#21908C"},"encoding":{"x":{"field":"age","type":"quantitative","scale":{"domain":[-3.75,100.75],"nice":false,"zero":false},"axis":null},"y":{"field":"v","type":"quantitative","scale":{"domain":[-6.3,131.8],"nice":false,"zero":false},"axis":null}}}
   ]},
   {"width":73,"height":161,"view":{"fill":"white","stroke":"#333333"},"data":{"values":[{"t":"Females\nImmigrating\nfrom Portugal"}]},"mark":{"type":"text","angle":90,"lineBreak":"\n","lineHeight":22,"dy":-22},"encoding":{"text":{"field":"t","type":"nominal"}}}
  ]}
 ]}
]},
{"spacing":2,"vconcat":[
 {"bounds":"flush","spacing":12,"hconcat":[
  {"width":260,"height":162,"resolve":{"axis":{"x":"independent","y":"independent"}},"layer":[
   {"data":{"name":"rib"},"transform":[{"filter":"datum.c=='SY'"}],"mark":"area","encoding":{"x":{"field":"age","type":"quantitative","scale":{"domain":[-3.75,100.75],"nice":false,"zero":false},"axis":{"values":[0,25,50,75,100],"labels":false,"ticks":false,"title":null}},"y":{"field":"lo","type":"quantitative","scale":{"domain":[-23.6,495.6],"nice":false,"zero":false},"axis":{"values":[0,100,200,300,400],"title":"Count"}},"y2":{"field":"hi"}}},
   {"data":{"name":"rib"},"transform":[{"filter":"datum.c=='SY'"}],"mark":"point","encoding":{"x":{"field":"age","type":"quantitative","scale":{"domain":[-3.75,100.75],"nice":false,"zero":false},"axis":{"values":[12.5,37.5,62.5,87.5],"labels":false,"ticks":false,"title":null,"gridWidth":0.9}},"y":{"field":"lo","type":"quantitative","scale":{"domain":[-23.6,495.6],"nice":false,"zero":false},"axis":{"values":[50,150,250,350,450],"labels":false,"ticks":false,"title":null,"gridWidth":0.9}}}},
   {"data":{"name":"pts"},"transform":[{"filter":"datum.c=='SY'"}],"mark":"circle","encoding":{"x":{"field":"age","type":"quantitative","scale":{"domain":[-3.75,100.75],"nice":false,"zero":false},"axis":null},"y":{"field":"n","type":"quantitative","scale":{"domain":[-23.6,495.6],"nice":false,"zero":false},"axis":null}}},
   {"data":{"name":"fit"},"transform":[{"filter":"datum.c=='SY' && datum.m=='B'"}],"mark":{"type":"line","color":"#440154"},"encoding":{"x":{"field":"age","type":"quantitative","scale":{"domain":[-3.75,100.75],"nice":false,"zero":false},"axis":null},"y":{"field":"v","type":"quantitative","scale":{"domain":[-23.6,495.6],"nice":false,"zero":false},"axis":null}}}
  ]},
  {"width":260,"height":162,"resolve":{"axis":{"x":"independent","y":"independent"}},"layer":[
   {"data":{"name":"rib"},"transform":[{"filter":"datum.c=='SY'"}],"mark":"area","encoding":{"x":{"field":"age","type":"quantitative","scale":{"domain":[-3.75,100.75],"nice":false,"zero":false},"axis":{"values":[0,25,50,75,100],"labels":false,"ticks":false,"title":null}},"y":{"field":"lo","type":"quantitative","scale":{"domain":[-23.6,495.6],"nice":false,"zero":false},"axis":{"values":[0,100,200,300,400],"labels":false,"ticks":false,"title":null}},"y2":{"field":"hi"}}},
   {"data":{"name":"rib"},"transform":[{"filter":"datum.c=='SY'"}],"mark":"point","encoding":{"x":{"field":"age","type":"quantitative","scale":{"domain":[-3.75,100.75],"nice":false,"zero":false},"axis":{"values":[12.5,37.5,62.5,87.5],"labels":false,"ticks":false,"title":null,"gridWidth":0.9}},"y":{"field":"lo","type":"quantitative","scale":{"domain":[-23.6,495.6],"nice":false,"zero":false},"axis":{"values":[50,150,250,350,450],"labels":false,"ticks":false,"title":null,"gridWidth":0.9}}}},
   {"data":{"name":"pts"},"transform":[{"filter":"datum.c=='SY'"}],"mark":"circle","encoding":{"x":{"field":"age","type":"quantitative","scale":{"domain":[-3.75,100.75],"nice":false,"zero":false},"axis":null},"y":{"field":"n","type":"quantitative","scale":{"domain":[-23.6,495.6],"nice":false,"zero":false},"axis":null}}},
   {"data":{"name":"fit"},"transform":[{"filter":"datum.c=='SY' && datum.m=='S'"}],"mark":{"type":"line","color":"#443983"},"encoding":{"x":{"field":"age","type":"quantitative","scale":{"domain":[-3.75,100.75],"nice":false,"zero":false},"axis":null},"y":{"field":"v","type":"quantitative","scale":{"domain":[-23.6,495.6],"nice":false,"zero":false},"axis":null}}}
  ]},
  {"width":260,"height":162,"resolve":{"axis":{"x":"independent","y":"independent"}},"layer":[
   {"data":{"name":"rib"},"transform":[{"filter":"datum.c=='SY'"}],"mark":"area","encoding":{"x":{"field":"age","type":"quantitative","scale":{"domain":[-3.75,100.75],"nice":false,"zero":false},"axis":{"values":[0,25,50,75,100],"labels":false,"ticks":false,"title":null}},"y":{"field":"lo","type":"quantitative","scale":{"domain":[-23.6,495.6],"nice":false,"zero":false},"axis":{"values":[0,100,200,300,400],"labels":false,"ticks":false,"title":null}},"y2":{"field":"hi"}}},
   {"data":{"name":"rib"},"transform":[{"filter":"datum.c=='SY'"}],"mark":"point","encoding":{"x":{"field":"age","type":"quantitative","scale":{"domain":[-3.75,100.75],"nice":false,"zero":false},"axis":{"values":[12.5,37.5,62.5,87.5],"labels":false,"ticks":false,"title":null,"gridWidth":0.9}},"y":{"field":"lo","type":"quantitative","scale":{"domain":[-23.6,495.6],"nice":false,"zero":false},"axis":{"values":[50,150,250,350,450],"labels":false,"ticks":false,"title":null,"gridWidth":0.9}}}},
   {"data":{"name":"pts"},"transform":[{"filter":"datum.c=='SY'"}],"mark":"circle","encoding":{"x":{"field":"age","type":"quantitative","scale":{"domain":[-3.75,100.75],"nice":false,"zero":false},"axis":null},"y":{"field":"n","type":"quantitative","scale":{"domain":[-23.6,495.6],"nice":false,"zero":false},"axis":null}}},
   {"data":{"name":"fit"},"transform":[{"filter":"datum.c=='SY' && datum.m=='R'"}],"mark":{"type":"line","color":"#2E6B8E"},"encoding":{"x":{"field":"age","type":"quantitative","scale":{"domain":[-3.75,100.75],"nice":false,"zero":false},"axis":null},"y":{"field":"v","type":"quantitative","scale":{"domain":[-23.6,495.6],"nice":false,"zero":false},"axis":null}}}
  ]},
  {"bounds":"flush","spacing":0,"hconcat":[
   {"width":260,"height":162,"resolve":{"axis":{"x":"independent","y":"independent"}},"layer":[
    {"data":{"name":"rib"},"transform":[{"filter":"datum.c=='SY'"}],"mark":"area","encoding":{"x":{"field":"age","type":"quantitative","scale":{"domain":[-3.75,100.75],"nice":false,"zero":false},"axis":{"values":[0,25,50,75,100],"labels":false,"ticks":false,"title":null}},"y":{"field":"lo","type":"quantitative","scale":{"domain":[-23.6,495.6],"nice":false,"zero":false},"axis":{"values":[0,100,200,300,400],"labels":false,"ticks":false,"title":null}},"y2":{"field":"hi"}}},
    {"data":{"name":"rib"},"transform":[{"filter":"datum.c=='SY'"}],"mark":"point","encoding":{"x":{"field":"age","type":"quantitative","scale":{"domain":[-3.75,100.75],"nice":false,"zero":false},"axis":{"values":[12.5,37.5,62.5,87.5],"labels":false,"ticks":false,"title":null,"gridWidth":0.9}},"y":{"field":"lo","type":"quantitative","scale":{"domain":[-23.6,495.6],"nice":false,"zero":false},"axis":{"values":[50,150,250,350,450],"labels":false,"ticks":false,"title":null,"gridWidth":0.9}}}},
    {"data":{"name":"pts"},"transform":[{"filter":"datum.c=='SY'"}],"mark":"circle","encoding":{"x":{"field":"age","type":"quantitative","scale":{"domain":[-3.75,100.75],"nice":false,"zero":false},"axis":null},"y":{"field":"n","type":"quantitative","scale":{"domain":[-23.6,495.6],"nice":false,"zero":false},"axis":null}}},
    {"data":{"name":"fit"},"transform":[{"filter":"datum.c=='SY' && datum.m=='P'"}],"mark":{"type":"line","color":"#21908C"},"encoding":{"x":{"field":"age","type":"quantitative","scale":{"domain":[-3.75,100.75],"nice":false,"zero":false},"axis":null},"y":{"field":"v","type":"quantitative","scale":{"domain":[-23.6,495.6],"nice":false,"zero":false},"axis":null}}}
   ]},
   {"width":73,"height":162,"view":{"fill":"white","stroke":"#333333"},"data":{"values":[{"t":"Males\nImmigrating\nfrom Syria"}]},"mark":{"type":"text","angle":90,"lineBreak":"\n","lineHeight":22,"dy":-22},"encoding":{"text":{"field":"t","type":"nominal"}}}
  ]}
 ]},
 {"bounds":"flush","spacing":12,"hconcat":[
  {"width":260,"height":162,"resolve":{"axis":{"x":"independent","y":"independent"}},"layer":[
   {"data":{"name":"rib"},"transform":[{"filter":"datum.c=='GT'"}],"mark":"area","encoding":{"x":{"field":"age","type":"quantitative","scale":{"domain":[-3.75,100.75],"nice":false,"zero":false},"axis":{"values":[0,25,50,75,100],"title":null}},"y":{"field":"lo","type":"quantitative","scale":{"domain":[-0.62,12.7],"nice":false,"zero":false},"axis":{"values":[0,2.5,5,7.5,10,12.5],"format":".1f","title":"Count","titleOpacity":0}},"y2":{"field":"hi"}}},
   {"data":{"name":"rib"},"transform":[{"filter":"datum.c=='GT'"}],"mark":"point","encoding":{"x":{"field":"age","type":"quantitative","scale":{"domain":[-3.75,100.75],"nice":false,"zero":false},"axis":{"values":[12.5,37.5,62.5,87.5],"labels":false,"ticks":false,"title":null,"gridWidth":0.9}},"y":{"field":"lo","type":"quantitative","scale":{"domain":[-0.62,12.7],"nice":false,"zero":false},"axis":{"values":[1.25,3.75,6.25,8.75,11.25],"labels":false,"ticks":false,"title":null,"gridWidth":0.9}}}},
   {"data":{"name":"pts"},"transform":[{"filter":"datum.c=='GT'"}],"mark":"circle","encoding":{"x":{"field":"age","type":"quantitative","scale":{"domain":[-3.75,100.75],"nice":false,"zero":false},"axis":null},"y":{"field":"n","type":"quantitative","scale":{"domain":[-0.62,12.7],"nice":false,"zero":false},"axis":null}}},
   {"data":{"name":"fit"},"transform":[{"filter":"datum.c=='GT' && datum.m=='B'"}],"mark":{"type":"line","color":"#440154"},"encoding":{"x":{"field":"age","type":"quantitative","scale":{"domain":[-3.75,100.75],"nice":false,"zero":false},"axis":null},"y":{"field":"v","type":"quantitative","scale":{"domain":[-0.62,12.7],"nice":false,"zero":false},"axis":null}}}
  ]},
  {"width":260,"height":162,"resolve":{"axis":{"x":"independent","y":"independent"}},"layer":[
   {"data":{"name":"rib"},"transform":[{"filter":"datum.c=='GT'"}],"mark":"area","encoding":{"x":{"field":"age","type":"quantitative","scale":{"domain":[-3.75,100.75],"nice":false,"zero":false},"axis":{"values":[0,25,50,75,100],"title":"Age","titleX":266}},"y":{"field":"lo","type":"quantitative","scale":{"domain":[-0.62,12.7],"nice":false,"zero":false},"axis":{"values":[0,2.5,5,7.5,10,12.5],"labels":false,"ticks":false,"title":null}},"y2":{"field":"hi"}}},
   {"data":{"name":"rib"},"transform":[{"filter":"datum.c=='GT'"}],"mark":"point","encoding":{"x":{"field":"age","type":"quantitative","scale":{"domain":[-3.75,100.75],"nice":false,"zero":false},"axis":{"values":[12.5,37.5,62.5,87.5],"labels":false,"ticks":false,"title":null,"gridWidth":0.9}},"y":{"field":"lo","type":"quantitative","scale":{"domain":[-0.62,12.7],"nice":false,"zero":false},"axis":{"values":[1.25,3.75,6.25,8.75,11.25],"labels":false,"ticks":false,"title":null,"gridWidth":0.9}}}},
   {"data":{"name":"pts"},"transform":[{"filter":"datum.c=='GT'"}],"mark":"circle","encoding":{"x":{"field":"age","type":"quantitative","scale":{"domain":[-3.75,100.75],"nice":false,"zero":false},"axis":null},"y":{"field":"n","type":"quantitative","scale":{"domain":[-0.62,12.7],"nice":false,"zero":false},"axis":null}}},
   {"data":{"name":"fit"},"transform":[{"filter":"datum.c=='GT' && datum.m=='S'"}],"mark":{"type":"line","color":"#443983"},"encoding":{"x":{"field":"age","type":"quantitative","scale":{"domain":[-3.75,100.75],"nice":false,"zero":false},"axis":null},"y":{"field":"v","type":"quantitative","scale":{"domain":[-0.62,12.7],"nice":false,"zero":false},"axis":null}}}
  ]},
  {"width":260,"height":162,"resolve":{"axis":{"x":"independent","y":"independent"}},"layer":[
   {"data":{"name":"rib"},"transform":[{"filter":"datum.c=='GT'"}],"mark":"area","encoding":{"x":{"field":"age","type":"quantitative","scale":{"domain":[-3.75,100.75],"nice":false,"zero":false},"axis":{"values":[0,25,50,75,100],"title":null}},"y":{"field":"lo","type":"quantitative","scale":{"domain":[-0.62,12.7],"nice":false,"zero":false},"axis":{"values":[0,2.5,5,7.5,10,12.5],"labels":false,"ticks":false,"title":null}},"y2":{"field":"hi"}}},
   {"data":{"name":"rib"},"transform":[{"filter":"datum.c=='GT'"}],"mark":"point","encoding":{"x":{"field":"age","type":"quantitative","scale":{"domain":[-3.75,100.75],"nice":false,"zero":false},"axis":{"values":[12.5,37.5,62.5,87.5],"labels":false,"ticks":false,"title":null,"gridWidth":0.9}},"y":{"field":"lo","type":"quantitative","scale":{"domain":[-0.62,12.7],"nice":false,"zero":false},"axis":{"values":[1.25,3.75,6.25,8.75,11.25],"labels":false,"ticks":false,"title":null,"gridWidth":0.9}}}},
   {"data":{"name":"pts"},"transform":[{"filter":"datum.c=='GT'"}],"mark":"circle","encoding":{"x":{"field":"age","type":"quantitative","scale":{"domain":[-3.75,100.75],"nice":false,"zero":false},"axis":null},"y":{"field":"n","type":"quantitative","scale":{"domain":[-0.62,12.7],"nice":false,"zero":false},"axis":null}}},
   {"data":{"name":"fit"},"transform":[{"filter":"datum.c=='GT' && datum.m=='R'"}],"mark":{"type":"line","color":"#2E6B8E"},"encoding":{"x":{"field":"age","type":"quantitative","scale":{"domain":[-3.75,100.75],"nice":false,"zero":false},"axis":null},"y":{"field":"v","type":"quantitative","scale":{"domain":[-0.62,12.7],"nice":false,"zero":false},"axis":null}}}
  ]},
  {"bounds":"flush","spacing":0,"hconcat":[
   {"width":260,"height":162,"resolve":{"axis":{"x":"independent","y":"independent"}},"layer":[
    {"data":{"name":"rib"},"transform":[{"filter":"datum.c=='GT'"}],"mark":"area","encoding":{"x":{"field":"age","type":"quantitative","scale":{"domain":[-3.75,100.75],"nice":false,"zero":false},"axis":{"values":[0,25,50,75,100],"title":null}},"y":{"field":"lo","type":"quantitative","scale":{"domain":[-0.62,12.7],"nice":false,"zero":false},"axis":{"values":[0,2.5,5,7.5,10,12.5],"labels":false,"ticks":false,"title":null}},"y2":{"field":"hi"}}},
    {"data":{"name":"rib"},"transform":[{"filter":"datum.c=='GT'"}],"mark":"point","encoding":{"x":{"field":"age","type":"quantitative","scale":{"domain":[-3.75,100.75],"nice":false,"zero":false},"axis":{"values":[12.5,37.5,62.5,87.5],"labels":false,"ticks":false,"title":null,"gridWidth":0.9}},"y":{"field":"lo","type":"quantitative","scale":{"domain":[-0.62,12.7],"nice":false,"zero":false},"axis":{"values":[1.25,3.75,6.25,8.75,11.25],"labels":false,"ticks":false,"title":null,"gridWidth":0.9}}}},
    {"data":{"name":"pts"},"transform":[{"filter":"datum.c=='GT'"}],"mark":"circle","encoding":{"x":{"field":"age","type":"quantitative","scale":{"domain":[-3.75,100.75],"nice":false,"zero":false},"axis":null},"y":{"field":"n","type":"quantitative","scale":{"domain":[-0.62,12.7],"nice":false,"zero":false},"axis":null}}},
    {"data":{"name":"fit"},"transform":[{"filter":"datum.c=='GT' && datum.m=='P'"}],"mark":{"type":"line","color":"#21908C"},"encoding":{"x":{"field":"age","type":"quantitative","scale":{"domain":[-3.75,100.75],"nice":false,"zero":false},"axis":null},"y":{"field":"v","type":"quantitative","scale":{"domain":[-0.62,12.7],"nice":false,"zero":false},"axis":null}}}
   ]},
   {"width":73,"height":162,"view":{"fill":"white","stroke":"#333333"},"data":{"values":[{"t":"Males\nImmigrating\nfrom Guatemala"}]},"mark":{"type":"text","angle":90,"lineBreak":"\n","lineHeight":22,"dy":-22},"encoding":{"text":{"field":"t","type":"nominal"}}}
  ]}
 ]}
]}
]
}
